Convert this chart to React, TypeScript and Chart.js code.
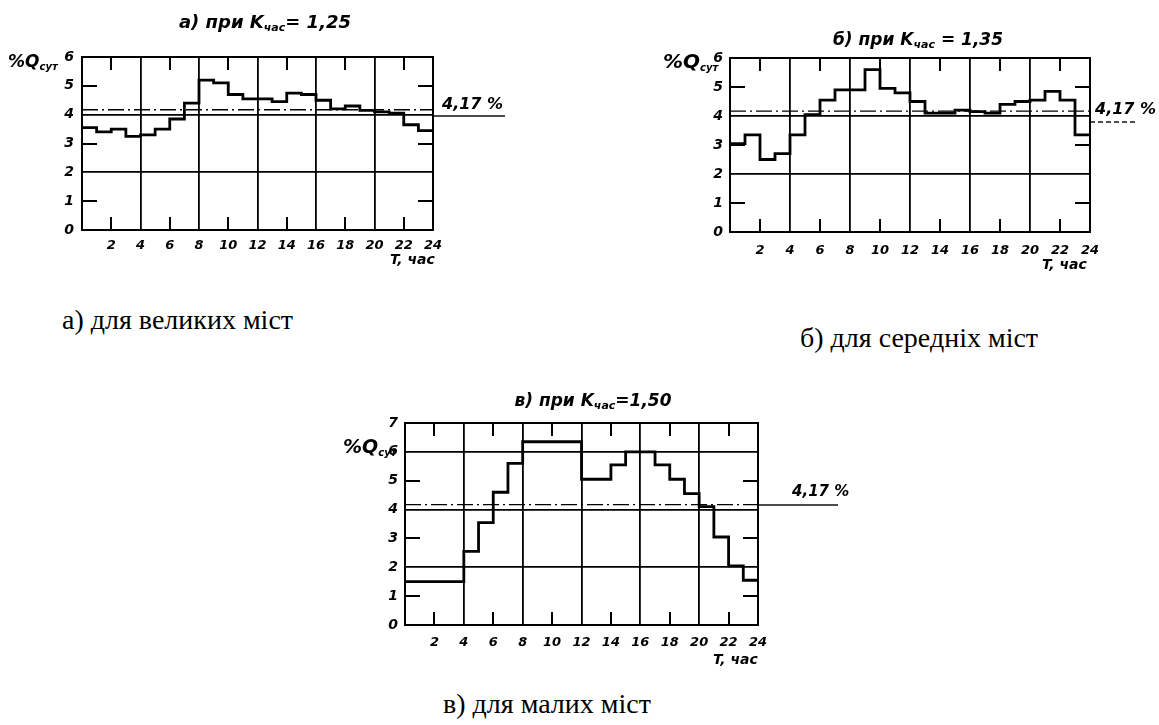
import React, { useEffect, useRef } from "react";
import { Chart, registerables } from "chart.js";

Chart.register(...registerables);

// ---- data ----
const hourStarts = [0, 1, 2, 3, 4, 5, 6, 7, 8, 9, 10, 11, 12, 13, 14, 15, 16, 17, 18, 19, 20, 21, 22, 23];
const dayEnd = 24;
const hourTickLabels = [2, 4, 6, 8, 10, 12, 14, 16, 18, 20, 22, 24];
const minorHourMarks = [2, 6, 10, 14, 18, 22];

// а) великі міста, Kчас = 1,25
const bigCityValues = [3.55, 3.4, 3.5, 3.25, 3.3, 3.5, 3.85, 4.4, 5.2, 5.1, 4.7, 4.55, 4.55, 4.45, 4.75, 4.7, 4.5, 4.2, 4.3, 4.15, 4.1, 4.05, 3.65, 3.45];
// б) середні міста, Kчас = 1,35
const mediumCityValues = [3.05, 3.35, 2.5, 2.7, 3.35, 4.05, 4.55, 4.9, 4.9, 5.6, 4.95, 4.8, 4.5, 4.1, 4.1, 4.2, 4.15, 4.1, 4.4, 4.5, 4.55, 4.85, 4.55, 3.35];
// в) малі міста, Kчас = 1,50
const smallCityValues = [1.5, 1.5, 1.5, 1.5, 2.55, 3.55, 4.6, 5.6, 6.35, 6.35, 6.35, 6.35, 5.05, 5.05, 5.55, 6.0, 6.0, 5.55, 5.05, 4.55, 4.1, 3.05, 2.05, 1.55];

const yTicksSix = [0, 1, 2, 3, 4, 5, 6];
const yTicksSeven = [0, 1, 2, 3, 4, 5, 6, 7];
const minorYMarks = [1, 3, 5];
const averageShare = 4.17;

const HAND = "'DejaVu Sans', sans-serif";

type Box = { left: number; top: number; width: number; height: number };
type Area = { left: number; top: number; right: number; bottom: number };

type PanelProps = {
  box: Box;
  area: Area;
  values: number[];
  yTicks: number[];
  extLen: number;
  extOffset: number;
  extDashed?: boolean;
  xPad: number;
  yPad: number;
};

function StepPanel(p: PanelProps) {
  const ref = useRef<HTMLCanvasElement>(null);
  useEffect(() => {
    const canvas = ref.current;
    if (!canvas) return;
    const yTicks = [...p.yTicks];
    const yMax = yTicks[yTicks.length - 1];
    const hourMarks = [...minorHourMarks];
    const shareMarks = [...minorYMarks];
    const stepData = hourStarts.map((h, i) => ({ x: h, y: p.values[i] }));
    stepData.push({ x: dayEnd, y: p.values[p.values.length - 1] });

    const tickFont = { family: HAND, size: 13, style: "italic", weight: "bold" };

    const overlay = {
      id: "panelOverlay",
      afterDraw(chart: any) {
        const ctx: CanvasRenderingContext2D = chart.ctx;
        const a = chart.chartArea;
        const xs = chart.scales.x;
        const ys = chart.scales.y;
        const top = Math.round(a.top);
        const bottom = Math.round(a.bottom);
        const left = Math.round(a.left);
        const right = Math.round(a.right);
        ctx.save();
        ctx.setLineDash([]);
        ctx.globalAlpha = 1;
        ctx.globalCompositeOperation = "source-over";
        ctx.fillStyle = "#000";
        // inner short tick marks as filled bars
        for (const v of hourMarks) {
          const x = Math.round(xs.getPixelForValue(v));
          ctx.fillRect(x - 1, top, 2, 13);
          ctx.fillRect(x - 1, bottom - 13, 2, 13);
        }
        for (const v of shareMarks) {
          const y = Math.round(ys.getPixelForValue(v));
          ctx.fillRect(left, y - 1, 15, 2);
          ctx.fillRect(right - 15, y - 1, 15, 2);
        }
        // frame
        ctx.fillRect(left - 1, top - 1, right - left + 2, 2);
        ctx.fillRect(left - 1, bottom - 1, right - left + 2, 2);
        ctx.fillRect(left - 1, top - 1, 2, bottom - top + 2);
        ctx.fillRect(right - 1, top - 1, 2, bottom - top + 2);
        // extension of the 4,17 % line
        const yAvg = Math.round(ys.getPixelForValue(averageShare) + p.extOffset);
        if (p.extDashed) {
          for (let x = right; x < right + p.extLen; x += 8) ctx.fillRect(x, yAvg - 0.7, 5, 1.4);
        } else {
          ctx.fillRect(right, yAvg - 0.7, p.extLen, 1.4);
        }
        ctx.restore();
      },
    };

    const chart = new Chart(canvas, {
      type: "line",
      data: {
        datasets: [
          {
            data: stepData,
            stepped: true,
            borderColor: "#000",
            borderWidth: 2.8,
            pointRadius: 0,
            fill: false,
          },
          {
            data: [
              { x: 0, y: averageShare },
              { x: dayEnd, y: averageShare },
            ],
            borderColor: "#000",
            borderWidth: 1.3,
            borderDash: [16, 4, 2, 4],
            pointRadius: 0,
            fill: false,
          },
        ],
      },
      options: {
        responsive: false,
        animation: false,
        events: [],
        layout: {
          padding: {
            left: 0,
            top: p.area.top,
            right: p.box.width - p.area.right,
            bottom: 0,
          },
        },
        plugins: { legend: { display: false }, title: { display: false }, tooltip: { enabled: false } },
        scales: {
          x: {
            type: "linear",
            min: 0,
            max: dayEnd,
            afterFit: (s: any) => {
              s.height = p.box.height - p.area.bottom;
            },
            afterBuildTicks: (s: any) => {
              s.ticks = [0, ...hourTickLabels].map((v) => ({ value: v }));
            },
            ticks: {
              autoSkip: false,
              maxRotation: 0,
              color: "#000",
              font: tickFont,
              padding: p.xPad,
              callback: (v: any) => (hourTickLabels.includes(Number(v)) ? String(v) : ""),
            },
            grid: {
              drawTicks: false,
              lineWidth: 1.8,
              color: (c: any) => (c.tick && c.tick.value % 4 === 0 ? "#000" : "rgba(0,0,0,0)"),
            },
            border: { display: false },
          },
          y: {
            type: "linear",
            min: 0,
            max: yMax,
            afterFit: (s: any) => {
              s.width = p.area.left;
            },
            afterBuildTicks: (s: any) => {
              s.ticks = yTicks.map((v) => ({ value: v }));
            },
            ticks: {
              color: "#000",
              font: { ...tickFont, size: 14 },
              padding: p.yPad,
            },
            grid: {
              drawTicks: false,
              lineWidth: 1.8,
              color: (c: any) => (c.tick && c.tick.value % 2 === 0 ? "#000" : "rgba(0,0,0,0)"),
            },
            border: { display: false },
          },
        },
      } as any,
      plugins: [overlay],
    });
    return () => chart.destroy();
  }, []);
  return (
    <canvas
      ref={ref}
      width={p.box.width}
      height={p.box.height}
      style={{ position: "absolute", left: p.box.left, top: p.box.top, width: p.box.width, height: p.box.height }}
    />
  );
}

function Hand(props: { left: number; top: number; size: number; children: React.ReactNode; width?: number; center?: boolean }) {
  return (
    <div
      style={{
        position: "absolute",
        left: props.left,
        top: props.top,
        width: props.width,
        textAlign: props.center ? "center" : "left",
        fontFamily: HAND,
        fontStyle: "italic",
        fontWeight: "bold",
        fontSize: props.size,
        lineHeight: 1.1,
        whiteSpace: "nowrap",
        color: "#000",
        pointerEvents: "none",
      }}
    >
      {props.children}
    </div>
  );
}

function Caption(props: { left: number; top: number; text: string }) {
  return (
    <div
      style={{
        position: "absolute",
        left: props.left,
        top: props.top,
        fontFamily: "'Liberation Serif', 'Times New Roman', serif",
        fontSize: 28,
        lineHeight: "32px",
        whiteSpace: "nowrap",
        color: "#000",
      }}
    >
      {props.text}
    </div>
  );
}

const sub = (t: string, size: number) => (
  <span style={{ fontSize: size, verticalAlign: "-0.25em" }}>{t}</span>
);

export default function App() {
  return (
    <div style={{ position: "absolute", left: 0, top: 0, width: 1159, height: 725, background: "#fff", overflow: "hidden" }}>
      {/* а) */}
      <StepPanel
        box={{ left: 0, top: 0, width: 540, height: 290 }}
        area={{ left: 82, top: 57, right: 433, bottom: 230 }}
        values={bigCityValues}
        yTicks={yTicksSix}
        extLen={72}
        extOffset={6}
        xPad={8}
        yPad={8}
      />
      <Hand left={115} top={12} width={300} center size={18}>
        а) при K{sub("час", 11)}= 1,25
      </Hand>
      <Hand left={8} top={52} size={17}>
        %Q{sub("сут", 10)}
      </Hand>
      <Hand left={390} top={252} size={14}>
        T, час
      </Hand>
      <Hand left={442} top={95} size={16}>
        4,17 %
      </Hand>
      <Caption left={62} top={304} text="а) для великих міст" />

      {/* б) */}
      <StepPanel
        box={{ left: 600, top: 0, width: 559, height: 300 }}
        area={{ left: 130, top: 58, right: 490, bottom: 232 }}
        values={mediumCityValues}
        yTicks={yTicksSix}
        extLen={48}
        extOffset={11}
        extDashed
        xPad={11}
        yPad={7}
      />
      <Hand left={768} top={30} width={300} center size={17}>
        б) при K{sub("час", 11)} = 1,35
      </Hand>
      <Hand left={663} top={50} size={20}>
        %Q{sub("сут", 10)}
      </Hand>
      <Hand left={1042} top={257} size={14}>
        T, час
      </Hand>
      <Hand left={1095} top={100} size={16}>
        4,17 %
      </Hand>
      <Caption left={800} top={322} text="б) для середніх міст" />

      {/* в) */}
      <StepPanel
        box={{ left: 300, top: 380, width: 560, height: 290 }}
        area={{ left: 105, top: 43, right: 458, bottom: 245 }}
        values={smallCityValues}
        yTicks={yTicksSeven}
        extLen={80}
        extOffset={0}
        xPad={10}
        yPad={7}
      />
      <Hand left={443} top={391} width={300} center size={17}>
        в) при K{sub("час", 11)}=1,50
      </Hand>
      <Hand left={343} top={436} size={19}>
        %Q{sub("сут", 10)}
      </Hand>
      <Hand left={713} top={652} size={14}>
        T, час
      </Hand>
      <Hand left={792} top={483} size={15}>
        4,17 %
      </Hand>
      <Caption left={443} top={688} text="в) для малих міст" />
    </div>
  );
}
